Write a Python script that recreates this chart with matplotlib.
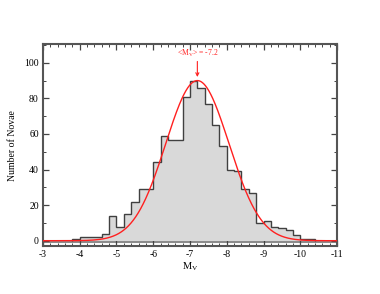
import numpy as np
import matplotlib
matplotlib.use("Agg")
import matplotlib.pyplot as plt

plt.rcParams['font.family'] = ['Liberation Serif', 'DejaVu Serif']
plt.rcParams['mathtext.fontset'] = 'stix'
plt.rcParams['axes.unicode_minus'] = False

# Histogram data (bin edges in M_V, bin width 0.2)
bin_edges = np.round(np.arange(-3.8, -10.41, -0.2), 2)
counts = [1, 2, 2, 2, 4, 14, 8, 15, 22, 29, 29, 44, 59, 56.5, 56.5, 81,
          90, 86, 77, 65, 53, 40, 39, 29, 27, 10, 11, 8, 7, 6, 3, 1, 1]

# Gaussian fit parameters
mean_mv = -7.2
sigma_mv = 0.86
amplitude = 90

xticks = [-3, -4, -5, -6, -7, -8, -9, -10, -11]
yticks = [0, 20, 40, 60, 80, 100]

fig = plt.figure(figsize=(3.8, 2.94), dpi=100)
ax = fig.add_axes([0.113, 0.163, 0.774, 0.687])

ax.axhline(0, color='#8c8c8c', lw=2.2, zorder=1)
ax.stairs(counts, bin_edges, fill=True, color='#d9d9d9', zorder=2)
ax.stairs(counts, bin_edges, baseline=0, color='#404040', lw=1.0, zorder=3)

xs = np.linspace(-3, -11, 600)
ax.plot(xs, amplitude * np.exp(-(xs - mean_mv) ** 2 / (2 * sigma_mv ** 2)),
        color='#ff2020', lw=1.0, zorder=4)

ax.annotate(r'<M$_\mathrm{V}$> = -7.2', xy=(mean_mv, 92), xytext=(mean_mv, 102.3),
            color='#ff2020', fontsize=5.5, ha='center', va='bottom',
            arrowprops=dict(arrowstyle='->', color='#ff2020', lw=0.8,
                            shrinkA=0, shrinkB=0), zorder=5)

ax.set_xlim(-3, -11)
ax.set_ylim(-3, 110.5)
ax.set_xticks(xticks)
ax.set_xticklabels([str(t) for t in xticks])
ax.set_yticks(yticks)
ax.set_xticks(np.arange(-3, -11.01, -0.2), minor=True)
ax.set_yticks(np.arange(0, 111, 10), minor=True)

for s in ax.spines.values():
    s.set_color('#555555')
    s.set_linewidth(1.5)
ax.tick_params(which='both', direction='in', top=True, right=True,
               color='#444444', labelsize=7, pad=3)
ax.tick_params(which='major', length=4, width=0.9)
ax.tick_params(which='minor', length=2, width=0.7)

ax.set_xlabel(r'M$_\mathrm{V}$', fontsize=7.5, labelpad=1)
ax.set_ylabel('Number of Novae', fontsize=7, labelpad=5)

fig.savefig('out.png', dpi=100)
